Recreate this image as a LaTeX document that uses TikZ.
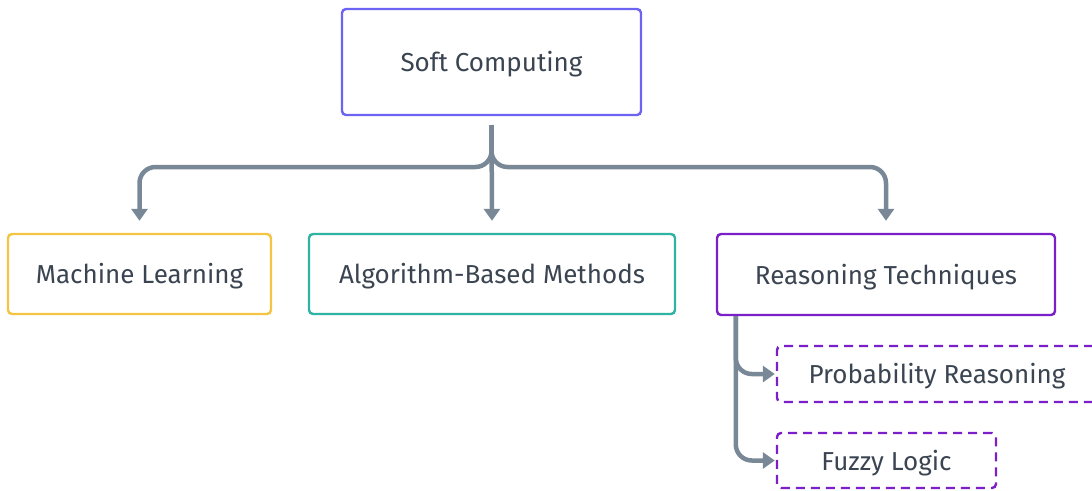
\documentclass[tikz,border=0pt]{standalone}
\usepackage{fontspec}
\setmainfont{Fira Sans}
\usetikzlibrary{arrows.meta}
\definecolor{txt}{HTML}{3B4552}
\definecolor{conn}{HTML}{798897}
\definecolor{indigo}{HTML}{6D63F2}
\definecolor{amber}{HTML}{F4C542}
\definecolor{teal}{HTML}{2FB3A2}
\definecolor{violet}{HTML}{7B1FC9}
\tikzset{
  box/.style={draw, line width=2.4pt, rounded corners=4pt, fill=white,
    text=txt, font=\fontsize{26}{30}\selectfont, inner sep=0pt,
    text height=20pt, text depth=1pt},
  subbox/.style={box, dashed, dash pattern=on 9pt off 6pt, draw=violet},
  link/.style={draw=conn, line width=4.5pt, rounded corners=16pt,
    -{Triangle[length=12pt,width=16pt]}},
}
\begin{document}
\begin{tikzpicture}[x=1pt,y=-1pt]
\useasboundingbox (0,0) rectangle (1092,490);
% boxes
\node[box, draw=indigo, minimum width=299pt, minimum height=106pt] (sc) at (491.5,62) {Soft Computing};
\node[box, draw=amber, minimum width=263pt, minimum height=80pt] (ml) at (139.5,274) {Machine Learning};
\node[box, draw=teal, minimum width=366pt, minimum height=80pt] (ab) at (492,274) {Algorithm-Based Methods};
\node[box, draw=violet, minimum width=338pt, minimum height=81pt] (rt) at (886,274.5) {Reasoning Techniques};
\node[subbox, minimum width=320pt, minimum height=56pt] (pr) at (937,374) {Probability Reasoning};
\node[subbox, minimum width=219pt, minimum height=55pt] (fl) at (886.5,460.5) {Fuzzy Logic};
% connector anchors
\coordinate (top) at (491.5,125);
\coordinate (bar) at (491.5,167);
\coordinate (rtfoot) at ([xshift=20pt]rt.south west);
% top-level branches
\draw[link] (top) |- (ml.north |- bar) -- ([yshift=12pt]ml.north);
\draw[link] (top) -- ([yshift=12pt]ab.north);
\draw[link] (top) |- (rt.north |- bar) -- ([yshift=12pt]rt.north);
% reasoning sub-branches
\draw[link] (rtfoot) |- ([xshift=-1pt]pr.west);
\draw[link] (rtfoot) |- ([xshift=-1pt]fl.west);
\end{tikzpicture}
\end{document}
